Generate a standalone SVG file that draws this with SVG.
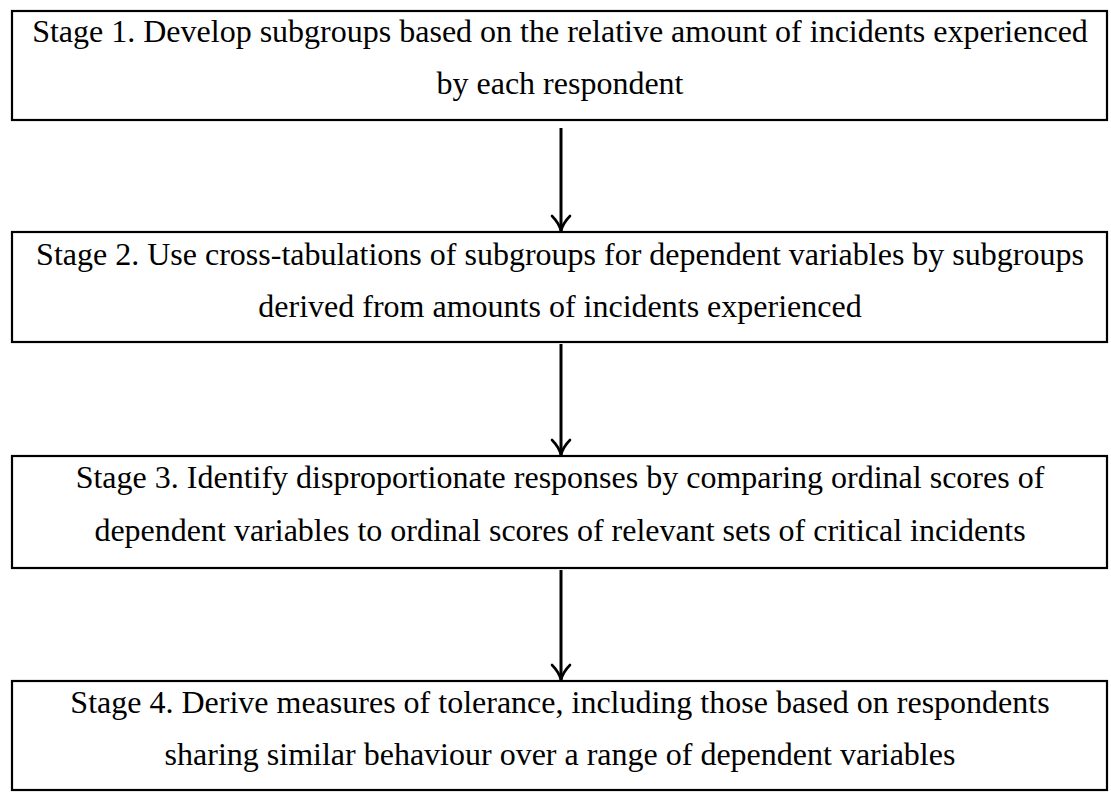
<svg xmlns="http://www.w3.org/2000/svg" width="1111" height="794" viewBox="0 0 1111 794">
  <style>
    .box { fill: #ffffff; stroke: #000000; stroke-width: 2.2; }
    .label { font-family: "Liberation Serif", "Times New Roman", serif; font-size: 32px; fill: #000000; text-anchor: middle; }
    .conn { stroke: #000000; stroke-width: 3; fill: none; }
    .head { stroke: #000000; stroke-width: 2.6; fill: none; stroke-linecap: round; }
  </style>
  <defs>
    <!-- open curved chevron, drawn pointing along +x so orient="auto" turns it down the line -->
    <marker id="chevron" viewBox="0 0 20 22" refX="18" refY="11" markerWidth="20" markerHeight="22" markerUnits="userSpaceOnUse" orient="auto">
      <path class="head" d="M3,2 Q10,9 18,11 Q10,13 3,20"/>
    </marker>
  </defs>
  <rect width="1111" height="794" fill="#ffffff"/>

  <g id="stage1">
    <rect class="box" x="12" y="11" width="1095" height="109"/>
    <text class="label" x="560" y="42">Stage 1. Develop subgroups based on the relative amount of incidents experienced</text>
    <text class="label" x="560" y="94">by each respondent</text>
  </g>

  <g id="stage2">
    <rect class="box" x="12" y="232" width="1095" height="110"/>
    <text class="label" x="560" y="265">Stage 2. Use cross-tabulations of subgroups for dependent variables by subgroups</text>
    <text class="label" x="560" y="317">derived from amounts of incidents experienced</text>
  </g>

  <g id="stage3">
    <rect class="box" x="12" y="456" width="1095" height="112"/>
    <text class="label" x="560" y="488">Stage 3. Identify disproportionate responses by comparing ordinal scores of</text>
    <text class="label" x="560" y="541">dependent variables to ordinal scores of relevant sets of critical incidents</text>
  </g>

  <g id="stage4">
    <rect class="box" x="12" y="681" width="1095" height="109"/>
    <text class="label" x="560" y="713">Stage 4. Derive measures of tolerance, including those based on respondents</text>
    <text class="label" x="560" y="765">sharing similar behaviour over a range of dependent variables</text>
  </g>

  <g id="connectors">
    <line class="conn" x1="561" y1="128" x2="561" y2="231" marker-end="url(#chevron)"/>
    <line class="conn" x1="561" y1="344" x2="561" y2="455" marker-end="url(#chevron)"/>
    <line class="conn" x1="561" y1="570" x2="561" y2="680" marker-end="url(#chevron)"/>
  </g>
</svg>
